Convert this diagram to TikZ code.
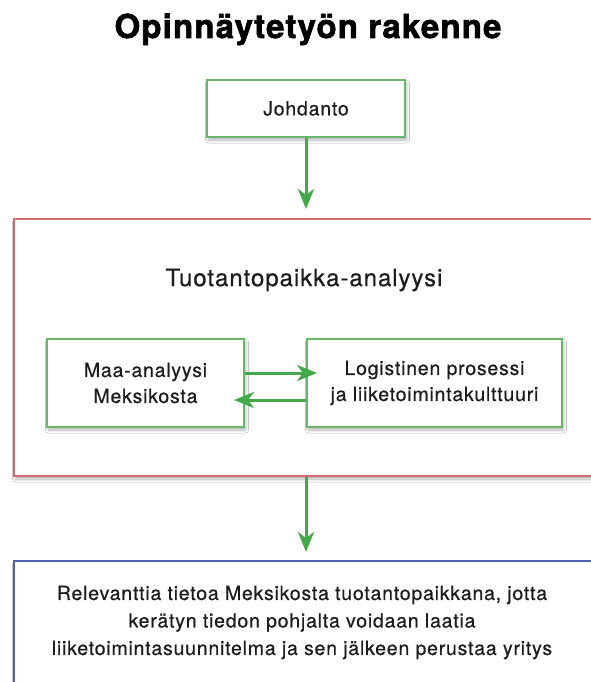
\documentclass[tikz,border=0pt]{standalone}
\usepackage{fontspec}
\setmainfont{TeX Gyre Heros}[LetterSpace=4, FakeBold=0.5]
\newfontfamily\titlefont{TeX Gyre Heros}[UprightFont=* Bold, FakeBold=1.8, LetterSpace=3.5]
\usetikzlibrary{arrows.meta,shadows.blur}
\definecolor{boxgreen}{RGB}{104,182,104}
\definecolor{arrgreen}{RGB}{66,168,72}
\definecolor{boxred}{RGB}{214,104,112}
\definecolor{boxblue}{RGB}{82,100,170}
\definecolor{txt}{RGB}{28,28,28}
\tikzset{
  shad/.style={blur shadow={shadow xshift=1.5pt, shadow yshift=-3pt, shadow opacity=30, shadow blur radius=3pt, shadow blur steps=6}},
  gbox/.style={draw=boxgreen, line width=2pt, fill=white, shad, align=center, text=txt, inner sep=0pt,
    font=\fontsize{19.5}{26}\selectfont},
  container/.style={line width=2pt, fill=white, shad, inner sep=0pt},
  lbl/.style={text=txt, align=center, inner sep=0pt},
  arr/.style={draw=arrgreen, line width=3pt, -{Stealth[length=20pt, width=16pt, inset=6pt]}},
}
\begin{document}
\begin{tikzpicture}[x=1pt,y=-1pt]
\useasboundingbox (0,0) rectangle (591,682);
\clip (0,0) rectangle (591,682);
\fill[white] (0,0) rectangle (591,682);

% title
\node[lbl, anchor=base, font=\titlefont\fontsize{33}{36}\selectfont, text=black] (title) at (308,38) {Opinnäytetyön rakenne};

% boxes
\node[gbox, minimum width=198pt, minimum height=57pt] (joh) at (306,108.5) {Johdanto};
\node[container, draw=boxred, minimum width=596pt, minimum height=257pt] (red) at (312,347.5) {};
\node[lbl, font=\fontsize{24}{28}\selectfont] (tuo) at (304,280) {Tuotantopaikka-analyysi};
\node[gbox, minimum width=197pt, minimum height=88pt] (maa) at (145.5,383) {Maa-analyysi\\Meksikosta};
\node[gbox, minimum width=255pt, minimum height=88pt] (log) at (434.5,383) {Logistinen prosessi\\ja liiketoimintakulttuuri};
\node[container, draw=boxblue, minimum width=596pt, minimum height=159pt] (blue) at (312,640.5) {};
\node[lbl, font=\fontsize{19.5}{27.5}\selectfont] (res) at (302,622.5) {Relevanttia tietoa Meksikosta tuotantopaikkana, jotta\\kerätyn tiedon pohjalta voidaan laatia\\liiketoimintasuunnitelma ja sen jälkeen perustaa yritys};

% connectors
\draw[arr, shorten >=9pt] (joh.south) -- (joh.south |- red.north);
\draw[arr, shorten >=-11pt] ([yshift=10pt]maa.east) -- ([yshift=10pt]log.west);
\draw[arr, shorten >=-11pt] ([yshift=-17pt]log.west) -- ([yshift=-17pt]maa.east);
\draw[arr, shorten >=8pt] (joh.south |- red.south) -- (joh.south |- blue.north);
\end{tikzpicture}
\end{document}
